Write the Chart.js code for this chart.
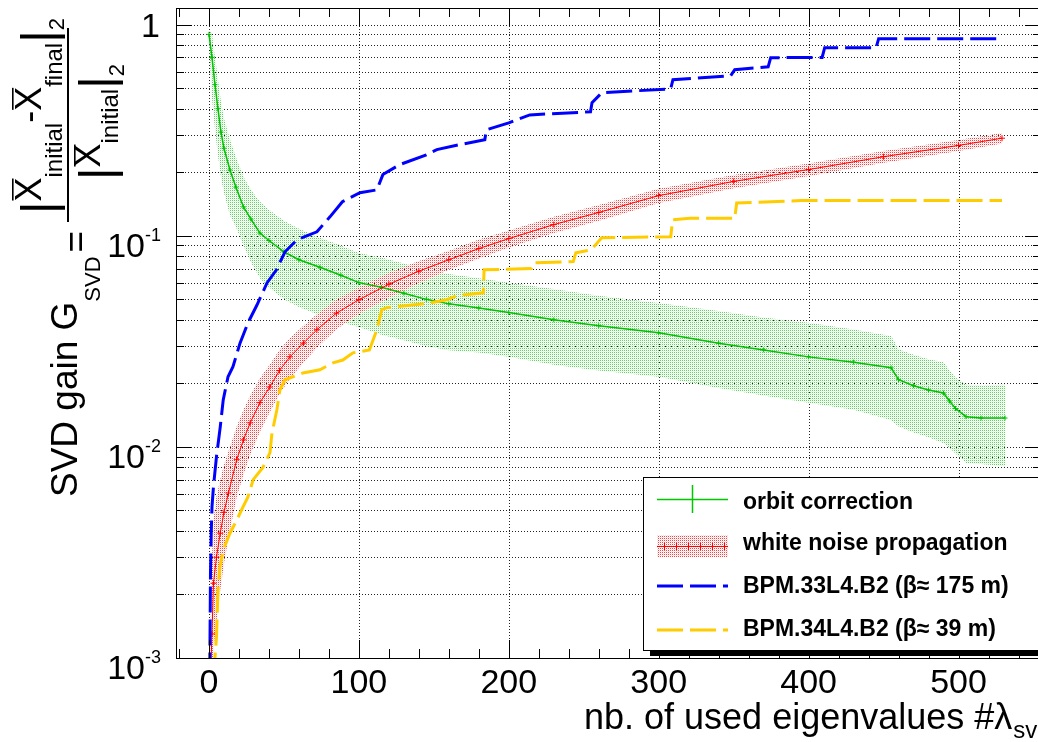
<!DOCTYPE html>
<html>
<head>
<meta charset="utf-8">
<title>SVD gain</title>
<script src="https://cdn.jsdelivr.net/npm/chart.js@4.4.1/dist/chart.umd.min.js"></script>
<style>
  html, body { margin: 0; padding: 0; background: #fff; overflow: hidden; }
  canvas { display: block; }
</style>
</head>
<body>
<canvas id="gainChart" width="1045" height="742"></canvas>
<script>
// orbit correction (green) : central value and error band
const orbitN    = [0, 2, 4, 6, 8, 10, 14, 18, 23, 28, 34, 40, 50, 60, 74, 88, 100, 115, 130, 145, 160, 180, 200, 230, 260, 300, 340, 370, 400, 430, 455, 460, 470, 480, 490, 494, 498, 505, 515, 531];
const orbitGain = [0.90, 0.70, 0.52, 0.40, 0.31, 0.26, 0.205, 0.17, 0.137, 0.12, 0.103, 0.095, 0.084, 0.077, 0.071, 0.065, 0.060, 0.057, 0.0535, 0.050, 0.0476, 0.0455, 0.0433, 0.040, 0.0375, 0.0347, 0.031, 0.0288, 0.0267, 0.0252, 0.0237, 0.0208, 0.0195, 0.0186, 0.018, 0.0165, 0.0152, 0.0139, 0.0137, 0.0137];
const orbitHigh = [0.95, 0.90, 0.70, 0.55, 0.43, 0.36, 0.285, 0.235, 0.19, 0.165, 0.145, 0.133, 0.118, 0.108, 0.098, 0.09, 0.083, 0.079, 0.074, 0.069, 0.066, 0.063, 0.060, 0.056, 0.052, 0.048, 0.044, 0.041, 0.0387, 0.036, 0.0335, 0.029, 0.0273, 0.026, 0.0252, 0.023, 0.0213, 0.0197, 0.0196, 0.0197];
const orbitLow  = [0.85, 0.45, 0.32, 0.24, 0.19, 0.16, 0.125, 0.11, 0.09, 0.075, 0.063, 0.057, 0.050, 0.046, 0.042, 0.039, 0.037, 0.034, 0.032, 0.030, 0.0287, 0.028, 0.0267, 0.0245, 0.023, 0.0215, 0.019, 0.0175, 0.0162, 0.015, 0.0134, 0.0125, 0.0117, 0.0111, 0.0104, 0.0099, 0.0093, 0.0084, 0.0083, 0.0081];

// white noise propagation (red)
const noiseN    = [1, 2, 3, 5, 7.5, 10, 13, 18.5, 23, 27.5, 34, 40.5, 47, 54, 63, 72, 85, 100, 120, 140, 160, 180, 200, 230, 260, 300, 350, 400, 450, 500, 529];
const noiseGain = [0.0008, 0.0013, 0.00226, 0.003, 0.0039, 0.0049, 0.00605, 0.0087, 0.0108, 0.013, 0.0162, 0.0192, 0.023, 0.0267, 0.031, 0.0359, 0.043, 0.0498, 0.059, 0.068, 0.077, 0.087, 0.097, 0.113, 0.129, 0.155, 0.181, 0.206, 0.237, 0.268, 0.29];
const noiseHigh = [0.0018, 0.0030, 0.0045, 0.0058, 0.0070, 0.0082, 0.0095, 0.0125, 0.015, 0.0175, 0.0212, 0.0245, 0.0288, 0.0328, 0.0375, 0.0425, 0.0502, 0.057, 0.067, 0.076, 0.085, 0.096, 0.106, 0.123, 0.140, 0.167, 0.194, 0.220, 0.252, 0.284, 0.307];
const noiseLow  = [0.0003, 0.0005, 0.0011, 0.0015, 0.0021, 0.0028, 0.0037, 0.0058, 0.0074, 0.0092, 0.0118, 0.0146, 0.0178, 0.0211, 0.0251, 0.0296, 0.0361, 0.0428, 0.051, 0.060, 0.069, 0.078, 0.088, 0.103, 0.118, 0.143, 0.168, 0.192, 0.222, 0.252, 0.274];

// BPM.33L4.B2 (blue)
const bpm33N    = [0.5, 1, 1.5, 2, 3, 5, 7.5, 9.5, 12.7, 16, 20.7, 26, 32, 38.7, 45, 50.7, 58.7, 72, 80.7, 89, 100.7, 112, 116, 127, 145, 152, 167, 184, 185, 200, 214, 254.5, 255.5, 262, 308, 309.5, 348, 350.7, 373, 374.7, 409, 410.7, 445, 446.7, 529];
const bpm33Gain = [0.0008, 0.0025, 0.0039, 0.0052, 0.0065, 0.009, 0.0124, 0.0167, 0.0215, 0.024, 0.031, 0.0387, 0.047, 0.0598, 0.069, 0.084, 0.0957, 0.1045, 0.123, 0.145, 0.16, 0.165, 0.195, 0.217, 0.242, 0.256, 0.27, 0.285, 0.318, 0.343, 0.374, 0.387, 0.427, 0.476, 0.497, 0.549, 0.573, 0.612, 0.632, 0.698, 0.70, 0.778, 0.778, 0.859, 0.859];

// BPM.34L4.B2 (yellow)
const bpm34N    = [3, 5, 6, 7.3, 9.5, 14, 18.5, 22.7, 26, 29.5, 36, 40.7, 42, 45.3, 47.3, 50.7, 62.7, 74, 82.7, 89.3, 96, 107, 112, 115.3, 118.7, 147, 158.7, 165, 183, 183.5, 215, 216.7, 243, 244.7, 255, 262, 308, 309.3, 320.7, 350.7, 352, 375, 395, 529];
const bpm34Gain = [0.0008, 0.00126, 0.0021, 0.0027, 0.00325, 0.0039, 0.0045, 0.0052, 0.0058, 0.007, 0.008, 0.0094, 0.0116, 0.015, 0.0186, 0.0208, 0.0224, 0.0232, 0.025, 0.0258, 0.0279, 0.0288, 0.0359, 0.0447, 0.0457, 0.048, 0.0498, 0.052, 0.0537, 0.069, 0.07, 0.0745, 0.0755, 0.083, 0.0859, 0.098, 0.099, 0.119, 0.121, 0.121, 0.143, 0.145, 0.147, 0.147];

// axis labels
const xTickLabels = [0, 100, 200, 300, 400, 500];
const yTickLabels = [0.001, 0.01, 0.1, 1];

const FONT = '"Liberation Sans", Arial, Helvetica, sans-serif';
const canvas = document.getElementById('gainChart');
const ctx0 = canvas.getContext('2d');

function pts(xs, ys) {
  return xs.map((x, i) => ({ x: x, y: ys[i] }));
}

// ROOT-like dotted fill
function dotPattern(dark, light) {
  const tile = document.createElement('canvas');
  tile.width = 2; tile.height = 2;
  const t = tile.getContext('2d');
  t.fillStyle = dark;
  t.fillRect(0, 0, 1, 1);
  t.fillStyle = light;
  t.fillRect(1, 1, 1, 1);
  return ctx0.createPattern(tile, 'repeat');
}
const greenDots = dotPattern('#5ad85a', '#e4f8e4');
const redDots = dotPattern('#ff4040', '#ffdcdc');

function yMinorValues() {
  const out = [];
  for (let i = 0; i < yTickLabels.length - 1; i++) {
    for (let m = 1; m <= 9; m++) out.push(m * yTickLabels[i]);
  }
  out.push(yTickLabels[yTickLabels.length - 1]);
  return out;
}

// draws text runs along the rotated y title; u = -screenY, v = screenX
function makeWriter(ctx, startY) {
  const w = { u: -startY };
  w.put = (text, size, base, opts) => {
    opts = opts || {};
    ctx.font = size + 'px ' + FONT;
    ctx.fillText(text, w.u, base);
    const width = ctx.measureText(text).width;
    if (opts.overline) {
      ctx.fillRect(w.u + 1, opts.overline, width - 2, 1.6);
    }
    w.u += width + (opts.gap || 0);
  };
  return w;
}

function drawYTitle(ctx) {
  ctx.save();
  ctx.fillStyle = '#000';
  ctx.textBaseline = 'alphabetic';
  ctx.textAlign = 'left';
  ctx.rotate(-Math.PI / 2);
  const main = makeWriter(ctx, 497);
  main.put('SVD gain G', 37, 77);
  main.put('SVD', 22, 100, { gap: 4 });
  main.put('=', 37, 88);

  // fraction bar
  ctx.fillRect(-222, 67, 194, 2);

  const num = makeWriter(ctx, 214);
  num.put('|', 48, 55);
  num.put('X', 36, 41, { overline: 12 });
  num.put('initial', 24, 62);
  num.put('-', 36, 41);
  num.put('X', 36, 41, { overline: 12 });
  num.put('final', 24, 62);
  num.put('|', 48, 55);
  num.put('2', 22, 64);

  const den = makeWriter(ctx, 180);
  den.put('|', 48, 113);
  den.put('X', 36, 100, { overline: 74 });
  den.put('initial', 24, 118);
  den.put('|', 48, 113);
  den.put('2', 22, 124);
  ctx.restore();
}

const axesDeco = {
  id: 'axesDeco',
  beforeDatasetsDraw(chart) {
    const { ctx, chartArea: a, scales: { x, y } } = chart;
    ctx.save();
    ctx.strokeStyle = '#222';
    ctx.lineWidth = 1;
    ctx.setLineDash([1, 2]);
    ctx.beginPath();
    xTickLabels.forEach(v => {
      const px = Math.round(x.getPixelForValue(v)) + 0.5;
      ctx.moveTo(px, a.top); ctx.lineTo(px, a.bottom);
    });
    yMinorValues().forEach(v => {
      const py = Math.round(y.getPixelForValue(v)) + 0.5;
      ctx.moveTo(a.left, py); ctx.lineTo(a.right, py);
    });
    ctx.stroke();
    ctx.restore();
  },
  afterDatasetsDraw(chart) {
    const { ctx, chartArea: a, scales: { x, y } } = chart;
    ctx.save();
    ctx.strokeStyle = '#000';
    ctx.lineWidth = 1;
    ctx.strokeRect(Math.round(a.left) + 0.5, Math.round(a.top) + 0.5, Math.round(a.right - a.left), Math.round(a.bottom - a.top));

    // ticks on all four sides, pointing inwards
    ctx.beginPath();
    for (let v = -20; v <= 540; v += 20) {
      const px = Math.round(x.getPixelForValue(v)) + 0.5;
      const len = v % 100 === 0 ? 18 : 9;
      ctx.moveTo(px, a.bottom); ctx.lineTo(px, a.bottom - len);
      ctx.moveTo(px, a.top); ctx.lineTo(px, a.top + len);
    }
    yMinorValues().forEach((v, i) => {
      const py = Math.round(y.getPixelForValue(v)) + 0.5;
      const len = i % 9 === 0 ? 16 : 8;
      ctx.moveTo(a.left, py); ctx.lineTo(a.left + len, py);
      ctx.moveTo(a.right, py); ctx.lineTo(a.right - len, py);
    });
    ctx.stroke();

    // tick labels
    ctx.fillStyle = '#000';
    ctx.textBaseline = 'alphabetic';
    ctx.font = '34px ' + FONT;
    ctx.textAlign = 'center';
    xTickLabels.forEach(v => {
      ctx.fillText(String(v), x.getPixelForValue(v), a.bottom + 35);
    });
    yTickLabels.forEach(v => {
      const py = y.getPixelForValue(v);
      const exp = Math.round(Math.log10(v));
      if (exp === 0) {
        ctx.font = '34px ' + FONT;
        ctx.textAlign = 'right';
        ctx.fillText('1', 160, py + 12);
        return;
      }
      ctx.textAlign = 'left';
      ctx.font = '18px ' + FONT;
      const sup = String(exp);
      const ws = ctx.measureText(sup).width;
      ctx.font = '34px ' + FONT;
      const wb = ctx.measureText('10').width;
      const x0 = 161 - ws - wb;
      ctx.fillText('10', x0, py + 21);
      ctx.font = '18px ' + FONT;
      ctx.fillText(sup, x0 + wb, py + 5);
    });

    // axis titles
    ctx.textAlign = 'left';
    ctx.font = '36px ' + FONT;
    const t = 'nb. of used eigenvalues #\u03bb';
    ctx.fillText(t, 584, 729);
    const tw = ctx.measureText(t).width;
    ctx.font = '24px ' + FONT;
    ctx.fillText('svd', 584 + tw + 1, 738);
    drawYTitle(ctx);
    ctx.restore();
  },
  afterDraw(chart) {
    const ctx = chart.ctx;
    ctx.save();
    // legend box with shadow
    const L = 643, T = 477, R = 1060, B = 650;
    ctx.fillStyle = '#000';
    ctx.fillRect(L + 7, B, R - L, 6);
    ctx.fillStyle = '#fff';
    ctx.fillRect(L, T, R - L, B - T);
    ctx.strokeStyle = '#000';
    ctx.lineWidth = 1;
    ctx.strokeRect(L + 0.5, T + 0.5, R - L, B - T);

    const sx0 = 657, sx1 = 728;
    // orbit correction
    ctx.strokeStyle = '#00c800';
    ctx.lineWidth = 1.5;
    ctx.beginPath();
    ctx.moveTo(sx0, 499.5); ctx.lineTo(sx1, 499.5);
    ctx.moveTo(692.5, 485); ctx.lineTo(692.5, 513);
    ctx.stroke();
    // white noise propagation
    ctx.fillStyle = redDots;
    ctx.fillRect(sx0, 535, sx1 - sx0, 22);
    ctx.strokeStyle = '#ff0000';
    ctx.lineWidth = 1;
    ctx.beginPath();
    ctx.moveTo(sx0, 546.5); ctx.lineTo(sx1, 546.5);
    [664, 676, 688, 700, 712, 724].forEach(cx => { ctx.moveTo(cx + 0.5, 543); ctx.lineTo(cx + 0.5, 550); });
    ctx.stroke();
    // BPMs
    [['#0000ff', 586], ['#ffcc00', 630]].forEach(([col, yy]) => {
      ctx.strokeStyle = col;
      ctx.lineWidth = 3;
      ctx.setLineDash([26, 7]);
      ctx.beginPath();
      ctx.moveTo(sx0, yy); ctx.lineTo(sx1, yy);
      ctx.stroke();
    });
    ctx.setLineDash([]);

    ctx.fillStyle = '#000';
    ctx.font = 'bold 23px ' + FONT;
    ctx.textAlign = 'left';
    ctx.textBaseline = 'alphabetic';
    ctx.fillText('orbit correction', 743, 509);
    ctx.fillText('white noise propagation', 743, 550);
    ctx.fillText('BPM.33L4.B2 (\u03b2\u2248 175 m)', 743, 593);
    ctx.fillText('BPM.34L4.B2 (\u03b2\u2248 39 m)', 743, 636);
    ctx.restore();
  }
};

new Chart(ctx0, {
  type: 'line',
  data: {
    datasets: [
      { label: 'blue', data: pts(bpm33N, bpm33Gain), borderColor: '#0000ff', borderWidth: 3, borderDash: [26, 7], pointRadius: 0, fill: false, order: 0 },
      { label: 'yellow', data: pts(bpm34N, bpm34Gain), borderColor: '#ffcc00', borderWidth: 3, borderDash: [26, 7], pointRadius: 0, fill: false, order: 1 },
      { label: 'noise', data: pts(noiseN, noiseGain), borderColor: '#ff0000', borderWidth: 1, pointStyle: 'cross', pointRadius: 3, pointBorderColor: '#ff0000', pointBorderWidth: 1, fill: false, order: 2 },
      { label: 'orbit', data: pts(orbitN, orbitGain), borderColor: '#00c000', borderWidth: 1.5, pointStyle: 'cross', pointRadius: 2.5, pointBorderColor: '#00c000', pointBorderWidth: 1, fill: false, order: 3 },
      { label: 'noiseHigh', data: pts(noiseN, noiseHigh), borderWidth: 0, pointRadius: 0, backgroundColor: redDots, fill: '+1', order: 4 },
      { label: 'noiseLow', data: pts(noiseN, noiseLow), borderWidth: 0, pointRadius: 0, fill: false, order: 5 },
      { label: 'orbitHigh', data: pts(orbitN, orbitHigh), borderWidth: 0, pointRadius: 0, backgroundColor: greenDots, fill: '+1', order: 6 },
      { label: 'orbitLow', data: pts(orbitN, orbitLow), borderWidth: 0, pointRadius: 0, fill: false, order: 7 }
    ]
  },
  options: {
    responsive: false,
    animation: false,
    devicePixelRatio: 1,
    events: [],
    layout: { autoPadding: false, padding: { left: 176, top: 8, right: 4, bottom: 84 } },
    elements: { line: { tension: 0 } },
    plugins: { legend: { display: false }, tooltip: { enabled: false } },
    scales: {
      x: { type: 'linear', display: false, min: -22, max: 555 },
      y: { type: 'logarithmic', display: false, min: 0.001, max: 1.2 }
    }
  },
  plugins: [axesDeco]
});
</script>
</body>
</html>
